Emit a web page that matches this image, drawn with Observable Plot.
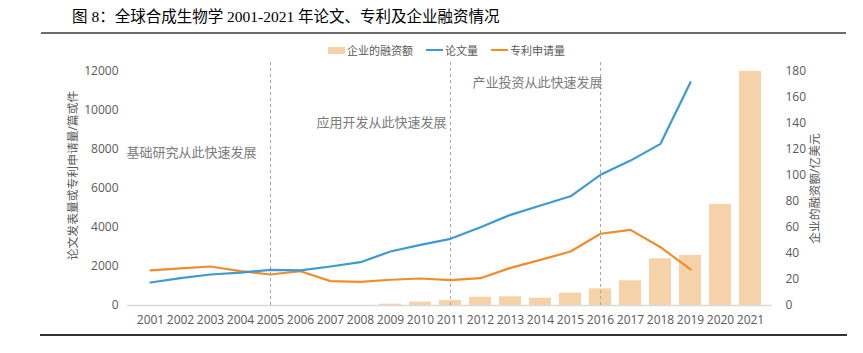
<!DOCTYPE html>
<html>
<head>
<meta charset="utf-8">
<script src="https://cdn.jsdelivr.net/npm/d3@7"></script>
<script src="https://cdn.jsdelivr.net/npm/@observablehq/plot@0.6"></script>
<style>
  html, body { margin: 0; padding: 0; background: #fff; }
  #wrap { position: relative; width: 863px; height: 353px; overflow: hidden; }
  #title { position: absolute; left: 72px; top: 4px; font-family: "Liberation Serif", "Noto Sans CJK SC", serif; font-size: 15.5px; font-weight: normal; color: #000; white-space: nowrap; }
  #rule-top { position: absolute; left: 41px; top: 32px; width: 805px; height: 2px; background: #6b6b6b; }
  #rule-bot { position: absolute; left: 40px; top: 334px; width: 807px; height: 2px; background: #333; }
  #chart { position: absolute; left: 0; top: 0; }
  #legend { position: absolute; left: 328px; top: 42px; display: flex; align-items: center; font-family: "Noto Sans CJK SC", sans-serif; font-size: 11px; color: #595959; white-space: nowrap; }
  .item { display: flex; align-items: center; margin-right: 13px; }
  .sw { display: inline-block; width: 17px; margin-right: 2px; }
</style>
</head>
<body>
<div id="wrap">
  <div id="title">图 8：全球合成生物学 2001-2021 年论文、专利及企业融资情况</div>
  <div id="rule-top"></div>
  <div id="chart"></div>
  <div id="legend"></div>
  <div id="rule-bot"></div>
</div>
<script>
// ---- data ----
const years = ["2001","2002","2003","2004","2005","2006","2007","2008","2009","2010","2011","2012","2013","2014","2015","2016","2017","2018","2019","2020","2021"];
const papers = [1180,1400,1590,1690,1830,1800,2000,2220,2770,3110,3420,4010,4650,5130,5600,6700,7430,8290,11450,null,null];
const patents = [1800,1900,2000,1760,1590,1760,1250,1215,1320,1385,1300,1400,1930,2340,2770,3680,3880,2990,1850,null,null];
const funding = [0,0,0,0,0,0,0,0,1,2.6,3.8,6.4,6.7,5.6,9.5,12.8,19,35.9,38.5,77.7,180];
const leftTicks = [0,2000,4000,6000,8000,10000,12000];
const rightTicks = [0,20,40,60,80,100,120,140,160,180];
const phaseYears = ["2005","2011","2016"];
const phaseLabels = ["基础研究从此快速发展","应用开发从此快速发展","产业投资从此快速发展"];
const seriesNames = ["企业的融资额","论文量","专利申请量"];
const leftTitle = "论文发表量或专利申请量/篇或件";
const rightTitle = "企业的融资额/亿美元";

const colors = {bar: "#F6D2A8", paper: "#3D9AD3", patent: "#EE8D2C"};
const k = 12000 / 180; // right axis -> left axis

const rows = years.map((y, i) => ({year: y, papers: papers[i], patents: patents[i], funding: funding[i]}));

const noteStyle = {textAnchor: "start", fill: "#7a7a7a", fontSize: 13};

const chart = Plot.plot({
  width: 863,
  height: 353,
  marginLeft: 127,
  marginRight: 91,
  marginTop: 71,
  marginBottom: 48,
  style: {fontFamily: '"Open Sans","Noto Sans CJK SC",sans-serif', fontSize: "12px", color: "#595959", background: "transparent"},
  x: {type: "band", domain: years, paddingInner: 0.28, paddingOuter: 0.14},
  y: {domain: [0, 12000], nice: false},
  marks: [
    Plot.barY(rows.filter(d => d.funding > 0), {x: "year", y: d => d.funding * k, fill: colors.bar}),
    Plot.ruleY([0], {stroke: "#d9d9d9", strokeWidth: 1.5}),
    Plot.ruleX(phaseYears, {x: d => d, y1: 0, y2: 12560, stroke: "#a6a6a6", strokeDasharray: "3,3", strokeWidth: 1, clip: false}),
    Plot.lineY(rows.filter(d => d.patents != null), {x: "year", y: "patents", stroke: colors.patent, strokeWidth: 2.2}),
    Plot.lineY(rows.filter(d => d.papers != null), {x: "year", y: "papers", stroke: colors.paper, strokeWidth: 2.2}),
    Plot.text([phaseLabels[0]], {x: () => "2001", y: () => 7846, dx: -24, text: d => d, ...noteStyle}),
    Plot.text([phaseLabels[1]], {x: () => "2007", y: () => 9385, dx: -14, text: d => d, ...noteStyle}),
    Plot.text([phaseLabels[2]], {x: () => "2012", y: () => 11436, dx: -8, text: d => d, ...noteStyle}),
    Plot.axisY(leftTicks, {anchor: "left", tickSize: 0, tickPadding: 9, tickFormat: d => String(d), label: null}),
    Plot.axisY(rightTicks.map(v => v * k), {anchor: "right", tickSize: 0, tickPadding: 13, tickFormat: v => String(Math.round(v / k)), label: null}),
    Plot.axisX({tickSize: 0, tickPadding: 10, label: null}),
    Plot.text([leftTitle], {frameAnchor: "left", dx: -54, dy: -13, rotate: -90, textAnchor: "middle", fill: "#595959", fontSize: 11.8}),
    Plot.text([rightTitle], {frameAnchor: "right", dx: 43, dy: 0, rotate: -90, textAnchor: "middle", fill: "#595959", fontSize: 11.8})
  ]
});
document.getElementById("chart").appendChild(chart);

// legend
const legend = document.getElementById("legend");
const legendItems = [
  {name: seriesNames[0], color: colors.bar, h: 7},
  {name: seriesNames[1], color: colors.paper, h: 2},
  {name: seriesNames[2], color: colors.patent, h: 2}
];
for (const it of legendItems) {
  const d = document.createElement("span");
  d.className = "item";
  const s = document.createElement("span");
  s.className = "sw";
  s.style.height = it.h + "px";
  s.style.background = it.color;
  d.appendChild(s);
  d.appendChild(document.createTextNode(it.name));
  legend.appendChild(d);
}
</script>
</body>
</html>
